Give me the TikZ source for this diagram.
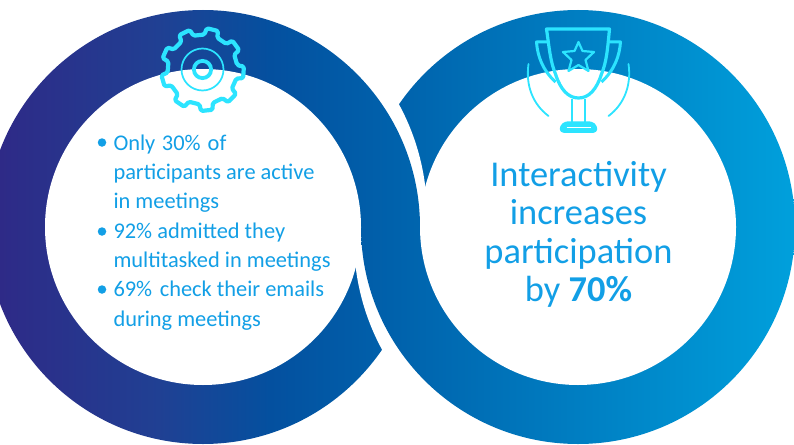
\documentclass[tikz,border=0pt]{standalone}
\usepackage{fontspec}
\setmainfont{Carlito}
\definecolor{txtblue}{HTML}{129FE6}
\definecolor{iconcyan}{HTML}{2CE4FF}
\definecolor{gA}{HTML}{2E2A87}
\definecolor{gB}{HTML}{204093}
\definecolor{gE}{HTML}{04509F}
\definecolor{gC}{HTML}{0062AC}
\definecolor{gD}{HTML}{00A0DC}
\pgfdeclarehorizontalshading{ringgrad}{100bp}{
 color(0bp)=(gA);
 color(25bp)=(gA);
 color(35bp)=(gB);
 color(42bp)=(gE);
 color(50bp)=(gC);
 color(75bp)=(gD);
 color(100bp)=(gD)}
\tikzset{
 every node/.style={inner sep=0pt,outer sep=0pt},
 listtext/.style={text=txtblue,font=\fontsize{22.4}{23}\selectfont,anchor=base west},
 bigtext/.style={text=txtblue,font=\fontsize{36.4}{37}\selectfont,anchor=base},
 bulletdot/.style={circle,fill=txtblue,minimum size=8.5pt},
 iconline/.style={draw=iconcyan,line width=3.6pt,line join=round},
 iconthin/.style={draw=iconcyan,line width=1.8pt,line cap=round}
}
\newcommand{\gradrect}{\shade[shading=ringgrad] (0,0) rectangle (794,444);}
\newcommand{\leftdisc}{\begin{scope}\clip (203,227) circle[radius=217pt];\gradrect\end{scope}\fill[white] (203,227) circle[radius=158pt];}
\newcommand{\rightdisc}{\begin{scope}\clip (578,227) circle[radius=217pt];\gradrect\end{scope}\fill[white] (578,227) circle[radius=158pt];}
\begin{document}
\begin{tikzpicture}[x=1pt,y=-1pt]
\useasboundingbox (0,0) rectangle (794,444);
\fill[white] (0,0) rectangle (794,444);
\clip (0,0) rectangle (794,444);
% lower half: right ring passes over the left ring
\begin{scope}
 \clip (0,226) rectangle (794,444);
 \leftdisc
 \fill[white] (586,239) circle[radius=232pt];
 \rightdisc
\end{scope}
% upper half: left ring passes over the right ring
\begin{scope}
 \clip (0,0) rectangle (794,227);
 \rightdisc
 \fill[white] (195,215) circle[radius=232pt];
 \leftdisc
\end{scope}
% gear
\begin{scope}[shift={(202.5,69.5)}]
 \draw[iconline,line width=4.2pt,rounded corners=1.5pt] (-7:35)
 \foreach \a in {4,44,...,324} {
   -- ({\a-11}:35) -- ({\a-8}:41.5) -- ({\a+8}:41.5) -- ({\a+11}:35)
 } -- cycle;
 \draw[draw=iconcyan,line width=1.7pt] (0,0) circle[radius=21pt];
 \draw[draw=iconcyan,line width=3.8pt] (0,0) circle[radius=8.6pt];
\end{scope}
% trophy
\begin{scope}[shift={(578.5,0)}]
 \draw[iconline,line width=3.2pt] (-32,29) -- (31,29) .. controls (29,50) and (28,62) .. (23,74) .. controls (18,90) and (10,98) .. (0,98) .. controls (-10,98) and (-18,90) .. (-23,74) .. controls (-28,62) and (-29,50) .. (-32,29) -- cycle;
 \draw[iconline,line width=3pt] (-30,42) -- (-42,42) .. controls (-41,56) and (-36,70) .. (-23,82);
 \draw[iconline,line width=3pt] (30,42) -- (42,42) .. controls (41,56) and (36,70) .. (23,82);
 \draw[iconline,line width=2.8pt] (-6.5,99) -- (-6.5,122) (6.5,99) -- (6.5,122);
 \draw[iconline,fill=iconcyan,line width=1.5pt,rounded corners=3pt] (-18,132) -- (-18,126) -- (-13,122) -- (13,122) -- (18,126) -- (18,132) -- cycle;
 \draw[draw=white,line width=1.2pt] (-12,127.5) -- (12,127.5);
 \draw[iconline,line width=2.2pt] (0,42)
  -- (4,51) -- (15.5,52) -- (7,60) -- (10,71) -- (0,65) -- (-10,71) -- (-7,60) -- (-15.5,52) -- (-4,51) -- cycle;
 \draw[iconthin] (-50,64) .. controls (-53,85) and (-46,104) .. (-30,116);
 \draw[iconthin] (50,64) .. controls (53,85) and (46,104) .. (30,116);
\end{scope}
% list
\node[bulletdot] (b1) at (102,142.5) {};
\node[bulletdot] (b2) at (102,231.5) {};
\node[bulletdot] (b3) at (102,289.5) {};
\node[listtext] (l1) at (113.5,150) {Only\hspace{1.5pt} 30\%\hspace{2pt} of};
\node[listtext] (l2) at (113.5,179) {participants are active};
\node[listtext] (l3) at (113.5,208.5) {in meetings};
\node[listtext] (l4) at (113.5,238.5) {92\% admitted they};
\node[listtext] (l5) at (113.5,267.5) {multitasked in meetings};
\node[listtext] (l6) at (113.5,296.5) {69\%\hspace{2.5pt} check their emails};
\node[listtext] (l7) at (113.5,326) {during meetings};
% big text
\node[bigtext] (t1) at (578.5,186) {Interactivity};
\node[bigtext] (t2) at (578.5,224) {increases};
\node[bigtext] (t3) at (578.5,263) {participation};
\node[bigtext] (t4) at (578.5,301) {by \textbf{70\%}};
\end{tikzpicture}
\end{document}
